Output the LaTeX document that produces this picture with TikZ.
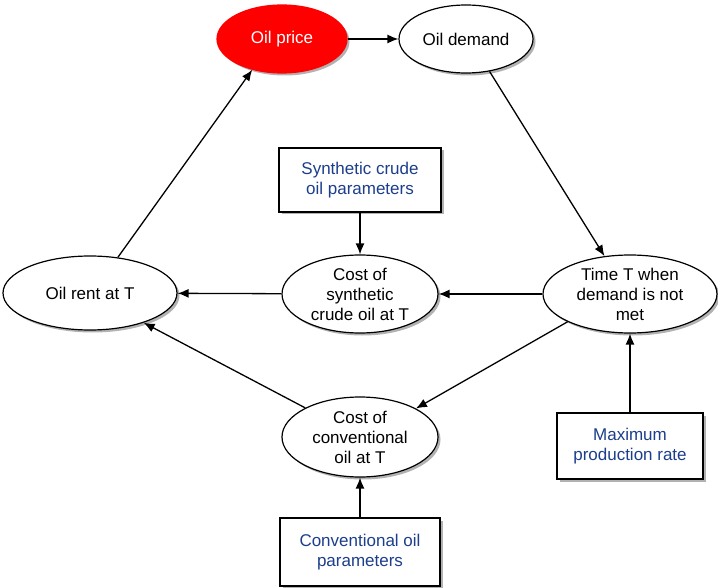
\documentclass[tikz,border=0pt]{standalone}
\usepackage{fontspec}
\setmainfont{Liberation Sans}
\usetikzlibrary{shapes.geometric,shadows,arrows.meta}
\definecolor{boxblue}{RGB}{28,62,140}
\begin{document}
\begin{tikzpicture}[x=1pt,y=-1pt,
  font=\fontsize{17}{20}\selectfont,
  shd/.style={drop shadow={shadow xshift=2.5pt,shadow yshift=-2.5pt,opacity=0.3,fill=black}},
  ell/.style={ellipse,draw=black,line width=1.2pt,fill=white,inner sep=0pt,align=center,shd},
  pbox/.style={rectangle,draw=black,line width=1.4pt,fill=white,inner sep=0pt,align=center,text=boxblue,shd},
  arr/.style={-{Latex[length=11pt,width=9pt]},line width=1.3pt}]
\useasboundingbox (0,0) rectangle (718,588);
\node[ell,fill=red,draw=red,text=white,minimum width=130pt,minimum height=68pt] (price) at (282,39) {Oil price};
\node[ell,minimum width=134pt,minimum height=68pt] (demand) at (466,39) {Oil demand};
\node[ell,minimum width=174pt,minimum height=74pt] (rent) at (90,293) {Oil rent at T};
\node[ell,minimum width=156pt,minimum height=78pt] (syn) at (360,294) {Cost of\\synthetic\\crude oil at T};
\node[ell,minimum width=174pt,minimum height=78pt] (time) at (630,294) {Time T when\\demand is not\\met};
\node[ell,minimum width=156pt,minimum height=80pt] (conv) at (360,437) {Cost of\\conventional\\oil at T};
\node[pbox,minimum width=162pt,minimum height=64pt] (synbox) at (360,180) {Synthetic crude\\oil parameters};
\node[pbox,minimum width=146pt,minimum height=66pt] (maxbox) at (630,446) {Maximum\\production rate};
\node[pbox,minimum width=160pt,minimum height=68pt] (convbox) at (360,552) {Conventional oil\\parameters};
\draw[arr] (price) -- (demand);
\draw[arr] (demand.306) -- (time.124);
\draw[arr] (time) -- (syn);
\draw[arr] (syn) -- (rent);
\draw[arr] (synbox) -- (syn);
\draw[arr] (maxbox) -- (time);
\draw[arr] (convbox) -- (conv);
\draw[arr] (time.204) -- (conv.27);
\draw[arr] (conv.152) -- (rent.331);
\draw[arr] (rent.52) -- (price.226);
\end{tikzpicture}
\end{document}
